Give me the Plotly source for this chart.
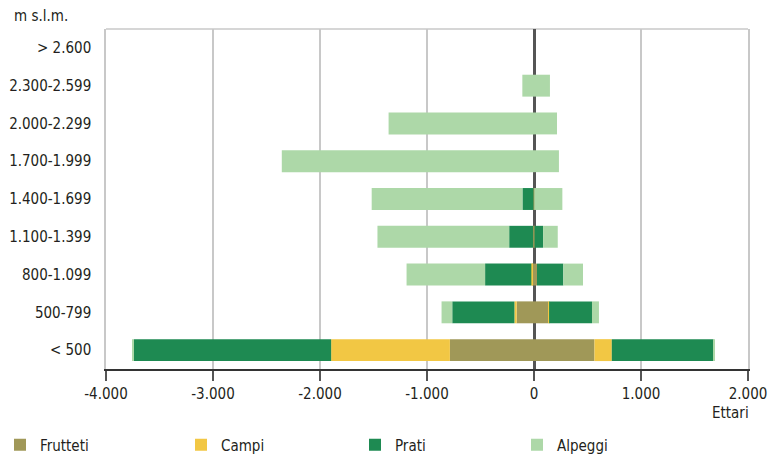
import plotly.graph_objects as go

categories = ["< 500", "500-799", "800-1.099", "1.100-1.399", "1.400-1.699",
              "1.700-1.999", "2.000-2.299", "2.300-2.599", "> 2.600"]

frutteti_left = [-786, -162, -15, -8, -5, 0, 0, 0, 0]
frutteti_right = [565, 136, 28, 5, 3, 0, 0, 0, 0]
campi_left = [-1110, -21, -10, 0, 0, 0, 0, 0, 0]
campi_right = [162, 5, 0, 0, 0, 0, 0, 0, 0]
prati_left = [-1844, -581, -432, -224, -103, 0, 0, 0, 0]
prati_right = [951, 401, 246, 80, 0, 0, 0, 0, 0]
alpeggi_left = [-10, -100, -734, -1231, -1409, -2357, -1359, -109, 0]
alpeggi_right = [12, 65, 184, 137, 262, 233, 215, 149, 0]

tick_vals = [-4000, -3000, -2000, -1000, 0, 1000, 2000]
tick_text = ["-4.000", "-3.000", "-2.000", "-1.000", "0", "1.000", "2.000"]

series = [
    ("Frutteti", "#A09858", frutteti_left, frutteti_right, 136),
    ("Campi", "#F2C744", campi_left, campi_right, 129),
    ("Prati", "#1E8A52", prati_left, prati_right, 117),
    ("Alpeggi", "#ADD8A8", alpeggi_left, alpeggi_right, 50),
]

FONT = "DejaVu Sans Condensed, Liberation Sans Narrow, sans-serif"
TXT = "#231f20"
FS = 15

fig = go.Figure()
for name, color, left, right, lw in series:
    fig.add_trace(go.Bar(y=categories, x=left, orientation="h", name=name,
                         marker=dict(color=color, line=dict(width=0)),
                         legendgroup=name, showlegend=True, legendwidth=lw))
    fig.add_trace(go.Bar(y=categories, x=right, orientation="h", name=name,
                         marker=dict(color=color, line=dict(width=0)),
                         legendgroup=name, showlegend=False))

fig.update_layout(
    width=783, height=455,
    margin=dict(l=106, r=35, t=29, b=86, autoexpand=False),
    barmode="relative", bargap=0.42,
    plot_bgcolor="white", paper_bgcolor="white",
    font=dict(family=FONT, size=FS, color=TXT),
    legend=dict(orientation="h", xref="container", yref="container",
                x=-11 / 783, y=(455 - 445) / 455, xanchor="left", yanchor="middle",
                font=dict(size=FS, color=TXT), traceorder="normal"),
    xaxis=dict(range=[-4000, 2000], tickvals=tick_vals, ticktext=tick_text,
               showgrid=True, gridcolor="#c8c8c8", gridwidth=1.5,
               zeroline=True, zerolinecolor="#555555", zerolinewidth=2.5,
               showline=True, linecolor="#333333", linewidth=1.5,
               ticks="outside", ticklen=10, tickcolor="#555555", tickwidth=1.5,
               automargin=False, fixedrange=True),
    yaxis=dict(categoryorder="array", categoryarray=categories,
               showgrid=False, showline=True, mirror=True,
               linecolor="#c8c8c8", linewidth=1.5, ticks="",
               ticklabelstandoff=10, automargin=False, fixedrange=True),
    shapes=[dict(type="line", xref="paper", yref="paper", x0=0, x1=1, y0=1, y1=1,
                 line=dict(color="#c8c8c8", width=1.5), layer="below")],
    annotations=[
        dict(text="m s.l.m.", xref="paper", yref="paper",
             x=(12 - 106) / 642, y=(369 - 16) / 340, xanchor="left", yanchor="middle",
             showarrow=False, font=dict(size=FS, color=TXT)),
        dict(text="Ettari", xref="paper", yref="paper",
             x=1 + 3 / 642, y=(369 - 413) / 340, xanchor="right", yanchor="middle",
             showarrow=False, font=dict(size=FS, color=TXT)),
    ],
)

fig.write_html("out.html", config={"displayModeBar": False},
               post_script="document.body.style.margin='0';document.body.style.padding='0';")
